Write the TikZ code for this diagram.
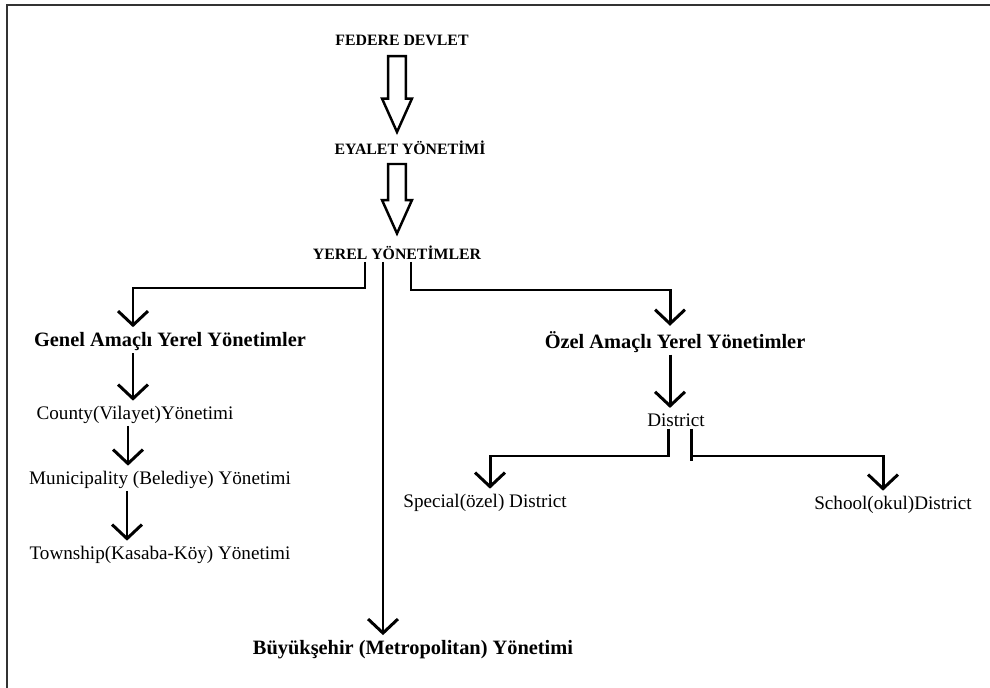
\documentclass[tikz,border=0pt]{standalone}
\usepackage{fontspec}
\setmainfont{Liberation Serif}
\usetikzlibrary{arrows.meta,calc}

\tikzset{
  capshead/.style={font=\fontsize{9}{11}\selectfont\bfseries, inner sep=1pt},
  subhead/.style={font=\fontsize{11.6}{14}\selectfont\bfseries, inner sep=1pt},
  item/.style={font=\fontsize{10.9}{13}\selectfont, inner sep=1pt},
  link/.style={line width=1.7pt, shorten >=2pt,
    -{Straight Barb[length=8pt,width=17pt]}},
  hollow/.style={draw, line width=1.4pt, fill=white, line join=miter},
}

% fat hollow arrow from #1 down to tip #2
\newcommand{\fatarrow}[2]{%
  \draw[hollow] let \p1=(#1), \p2=(#2) in
    (\x2-5pt,\y1) -- (\x2+5pt,\y1) -- (\x2+5pt,\y2+19pt) -- (\x2+8.5pt,\y2+19pt)
    -- (\x2,\y2) -- (\x2-8.5pt,\y2+19pt) -- (\x2-5pt,\y2+19pt) -- cycle;}

\begin{document}
\begin{tikzpicture}[x=0.02cm,y=-0.02cm]
  \useasboundingbox (0,0) rectangle (990,688);

  % ---- frame ----------------------------------------------
  \draw[line width=1.2pt,black!80] (7,688) -- (7,5) -- (990,5);

  % ---- top chain ------------------------------------------
  \node[capshead] (federe) at (402,40)  {FEDERE DEVLET};
  \node[capshead] (eyalet) at (410,148) {EYALET YÖNETİMİ};
  \node[capshead] (yerel)  at (397,253) {YEREL YÖNETİMLER};

  \fatarrow{[yshift=-5pt]federe.south -| yerel.north}{[yshift=4pt]eyalet.north -| yerel.north}
  \fatarrow{[yshift=-4pt]eyalet.south -| yerel.north}{[yshift=6pt]yerel.north}

  % ---- second level ---------------------------------------
  \node[subhead] (genel) at (170,342) {Genel Amaçlı Yerel Yönetimler};
  \node[subhead] (ozel)  at (675,342) {Özel Amaçlı Yerel Yönetimler};
  \node[subhead] (metro) at (413,650) {Büyükşehir (Metropolitan) Yönetimi};

  \coordinate (yl) at (365,262);
  \coordinate (ym) at (383,262);
  \coordinate (yr) at (411,262);

  \draw[link] (yl) -- (365,288) -| (genel.north -| 133,0);
  \draw[link] (ym) -- (metro.north -| ym);
  \draw[link] (yr) -- (411,290) -| (ozel.north -| 670,0);

  % ---- left column: general purpose -----------------------
  \node[item] (county)   at (135,415) {County(Vilayet)Yönetimi};
  \node[item] (belediye) at (160,480) {Municipality (Belediye) Yönetimi};
  \node[item] (kasaba)   at (160,555) {Township(Kasaba-Köy) Yönetimi};

  \draw[link] (genel.south -| 133,0) -- (county.north -| 133,0);
  \draw[link] (county.south -| 128,0) -- (belediye.north -| 128,0);
  \draw[link] (belediye.south -| 127,0) -- (kasaba.north -| 127,0);

  % ---- right column: special purpose ----------------------
  \node[item] (district) at (676,420) {District};
  \node[item] (special)  at (485,503) {Special(özel) District};
  \node[item] (school)   at (893,505) {School(okul)District};

  \draw[link] (ozel.south -| 670,0) -- (district.north -| 670,0);
  \draw[link] (district.south -| 668,0) -- (668,456) -| (special.north -| 490,0);
  \draw[link] (district.south -| 691,0) -- (691,461) (691,456) -| (school.north -| 883,0);

\end{tikzpicture}
\end{document}
